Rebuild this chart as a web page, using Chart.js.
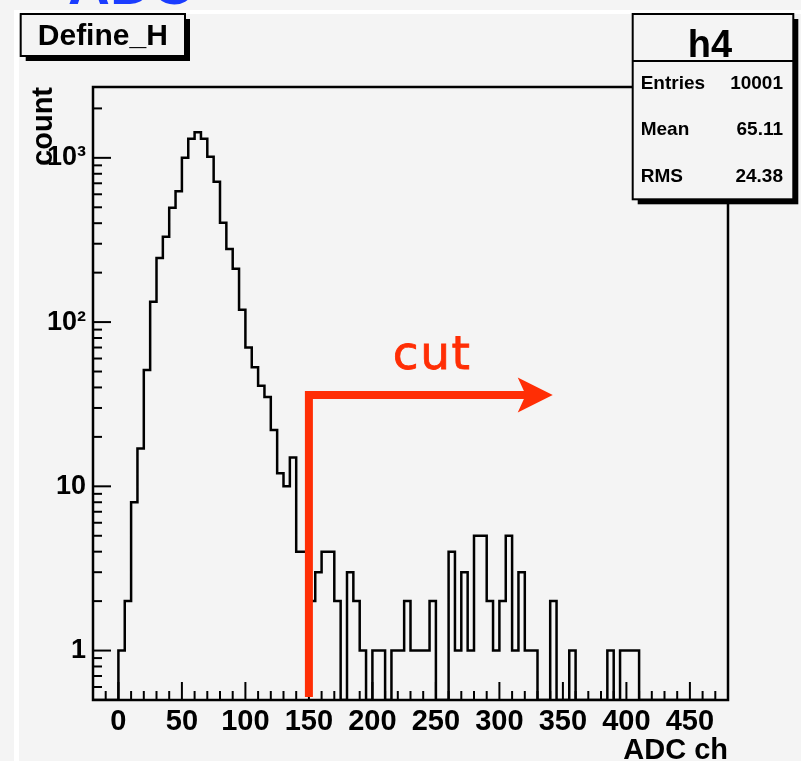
<!DOCTYPE html>
<html>
<head>
<meta charset="utf-8">
<script src="https://cdn.jsdelivr.net/npm/chart.js@4.4.1/dist/chart.umd.min.js"></script>
<style>
  html, body { margin: 0; padding: 0; background: #f4f4f4; }
  canvas { display: block; }
</style>
</head>
<body>
<canvas id="h4" width="801" height="761"></canvas>
<script>
// histogram h4: 100 bins of 5 ADC ch from -20 to 480
const X_MIN = -20;
const X_MAX = 480;
const BIN_WIDTH = 5;
const Y_MIN = 0.5;
const Y_MAX = 2700;

const binValues = [
    0, 0, 0, 0,
    1, 2, 8, 17, 51, 133, 246, 331, 497, 627,
    1001, 1307, 1434, 1307, 1016, 715, 402, 279, 211, 119,
    70, 53, 41, 35, 22, 12, 10, 15, 4, 4,
    2, 3, 4, 4, 2, 0, 3, 2, 1, 0,
    1, 1, 0, 1, 1, 2, 1, 1, 1, 2,
    0, 0, 4, 1, 3, 1, 5, 5, 2, 1,
    2, 5, 1, 3, 1, 1, 0, 0, 2, 0,
    0, 1, 0, 0, 0, 0, 0, 1, 0, 1,
    1, 1, 0, 0, 0, 0, 0, 0, 0, 0,
    0, 0, 0, 0
];

const xTickLabels = [0, 50, 100, 150, 200, 250, 300, 350, 400, 450];
const yTickValues = [1, 10, 100, 1000];
const yTickLabels = ['1', '10', '10\u00b2', '10\u00b3'];

const statNames = ['Entries', 'Mean', 'RMS'];
const statValues = ['10001', '65.11', '24.38'];

// cut annotation (in axis units)
const CUT_X = 150;
const CUT_TOP = 36;
const CUT_END = 342;
const CUT_TEXT_X = 247;
const CUT_TEXT_Y = 52;

const RED = '#ff2e05';
const PAD = '#f4f4f4';
const FONT = '"Liberation Sans", Arial, Helvetica, sans-serif';

// outline points: each bin gives its two top corners, empty bins sit on the frame
const histPoints = [];
binValues.forEach((v, i) => {
    const lo = X_MIN + i * BIN_WIDTH;
    const y = v > 0 ? v : Y_MIN;
    histPoints.push({ x: lo, y: y }, { x: lo + BIN_WIDTH, y: y });
});

function line(ctx, x1, y1, x2, y2) {
    ctx.beginPath();
    ctx.moveTo(x1, y1);
    ctx.lineTo(x2, y2);
    ctx.stroke();
}

function shadowBox(ctx, x, y, w, h) {
    ctx.fillStyle = '#000';
    ctx.fillRect(x + 5, y + 5, w, h);
    ctx.fillStyle = PAD;
    ctx.fillRect(x, y, w, h);
    ctx.lineWidth = 2;
    ctx.strokeStyle = '#000';
    ctx.strokeRect(x, y, w, h);
}

const rootPad = {
    id: 'rootPad',
    beforeDraw(chart) {
        const ctx = chart.ctx;
        ctx.save();
        ctx.fillStyle = PAD;
        ctx.fillRect(0, 0, chart.width, chart.height);
        ctx.fillStyle = '#ffffff';
        ctx.fillRect(14, 10, chart.width - 14, 4);
        ctx.fillRect(14, 10, 5, chart.height - 10);
        // canvas title, mostly outside the picture
        ctx.fillStyle = '#1a3cff';
        ctx.font = 'bold 58px ' + FONT;
        ctx.textBaseline = 'alphabetic';
        ctx.fillText('ADC', 68, 4);
        ctx.restore();
    },
    beforeDatasetsDraw(chart) {
        const ctx = chart.ctx;
        const { left, right, top, bottom } = chart.chartArea;
        const xs = chart.scales.x;
        const ys = chart.scales.y;
        ctx.save();
        ctx.strokeStyle = '#000';
        ctx.lineWidth = 2.5;
        ctx.strokeRect(left, top, right - left, bottom - top);
        ctx.lineWidth = 2;
        // x tick marks every 10, long ones every 50
        for (let v = X_MIN + 10; v < X_MAX; v += 10) {
            const px = xs.getPixelForValue(v);
            const len = v % 50 === 0 ? 18 : 9;
            line(ctx, px, bottom, px, bottom - len);
        }
        // y tick marks per decade
        for (let e = -1; e <= 3; e++) {
            for (let m = 1; m <= 9; m++) {
                const v = m * Math.pow(10, e);
                if (v <= Y_MIN || v >= Y_MAX) continue;
                const py = ys.getPixelForValue(v);
                const len = m === 1 ? 18 : 9;
                line(ctx, left, py, left + len, py);
            }
        }
        ctx.restore();
    },
    afterDraw(chart) {
        const ctx = chart.ctx;
        const xs = chart.scales.x;
        const ys = chart.scales.y;
        const bottom = chart.chartArea.bottom;
        ctx.save();

        // cut line with arrow
        const cx = xs.getPixelForValue(CUT_X);
        const cy = ys.getPixelForValue(CUT_TOP);
        const ex = xs.getPixelForValue(CUT_END);
        ctx.strokeStyle = RED;
        ctx.fillStyle = RED;
        ctx.lineWidth = 8;
        ctx.lineJoin = 'miter';
        ctx.beginPath();
        ctx.moveTo(cx, bottom - 3);
        ctx.lineTo(cx, cy);
        ctx.lineTo(ex - 24, cy);
        ctx.stroke();
        ctx.beginPath();
        ctx.moveTo(ex, cy);
        ctx.lineTo(ex - 35, cy - 17.5);
        ctx.lineTo(ex - 27, cy);
        ctx.lineTo(ex - 35, cy + 17.5);
        ctx.closePath();
        ctx.fill();

        ctx.font = '47px "DejaVu Sans", sans-serif';
        ctx.letterSpacing = '1.5px';
        ctx.textAlign = 'center';
        ctx.textBaseline = 'alphabetic';
        ctx.fillText('cut', xs.getPixelForValue(CUT_TEXT_X), ys.getPixelForValue(CUT_TEXT_Y));
        ctx.strokeStyle = RED;
        ctx.lineWidth = 0.8;
        ctx.strokeText('cut', xs.getPixelForValue(CUT_TEXT_X), ys.getPixelForValue(CUT_TEXT_Y));
        ctx.letterSpacing = '0px';

        // title box
        shadowBox(ctx, 20.7, 14, 164.3, 42);
        ctx.fillStyle = '#000';
        ctx.font = 'bold 30px ' + FONT;
        ctx.textAlign = 'center';
        ctx.fillText('Define_H', 102.8, 44.5);

        // stats box
        shadowBox(ctx, 632.7, 14, 160.6, 185.3);
        line(ctx, 632.7, 61, 793.3, 61);
        ctx.fillStyle = '#000';
        ctx.font = 'bold 38px ' + FONT;
        ctx.textAlign = 'center';
        ctx.fillText('h4', 710, 56.5);
        ctx.font = 'bold 19px ' + FONT;
        const rowY = [89.3, 135, 181.7];
        statNames.forEach((name, i) => {
            ctx.textAlign = 'left';
            ctx.fillText(name, 640.7, rowY[i]);
            ctx.textAlign = 'right';
            ctx.fillText(statValues[i], 783, rowY[i]);
        });
        ctx.restore();
    }
};

new Chart(document.getElementById('h4').getContext('2d'), {
    type: 'line',
    data: {
        datasets: [{
            label: 'h4',
            data: histPoints,
            borderColor: '#000000',
            borderWidth: 2.5,
            borderJoinStyle: 'miter',
            pointRadius: 0,
            tension: 0,
            fill: false
        }]
    },
    options: {
        responsive: false,
        animation: false,
        events: [],
        layout: { padding: { left: 0, top: 87, right: 73, bottom: 0 } },
        plugins: {
            legend: { display: false },
            tooltip: { enabled: false }
        },
        scales: {
            x: {
                type: 'linear',
                min: X_MIN,
                max: X_MAX,
                grid: { display: false, drawTicks: false },
                border: { display: false },
                afterBuildTicks: (scale) => {
                    scale.ticks = xTickLabels.map(v => ({ value: v }));
                },
                afterFit: (scale) => { scale.height = 61; },
                ticks: {
                    autoSkip: false,
                    maxRotation: 0,
                    minRotation: 0,
                    padding: 5,
                    color: '#000',
                    font: { family: FONT, size: 29, weight: 'bold' },
                    callback: (v) => String(v)
                },
                title: {
                    display: true,
                    text: 'ADC ch',
                    align: 'end',
                    color: '#000',
                    font: { family: FONT, size: 29, weight: 'bold', lineHeight: 0.72 },
                    padding: { top: 0, bottom: 0 }
                }
            },
            y: {
                type: 'logarithmic',
                min: Y_MIN,
                max: Y_MAX,
                grid: { display: false, drawTicks: false },
                border: { display: false },
                afterBuildTicks: (scale) => {
                    scale.ticks = yTickValues.map(v => ({ value: v }));
                },
                afterFit: (scale) => { scale.width = 93; },
                ticks: {
                    autoSkip: false,
                    padding: 7,
                    color: '#000',
                    font: { family: FONT, size: 27, weight: 'bold' },
                    callback: (v) => {
                        const i = yTickValues.indexOf(v);
                        return i >= 0 ? yTickLabels[i] : '';
                    }
                },
                title: {
                    display: true,
                    text: 'count',
                    align: 'end',
                    color: '#000',
                    font: { family: FONT, size: 29, weight: 'bold', lineHeight: 1 },
                    padding: { top: 29, bottom: 0 }
                }
            }
        }
    },
    plugins: [rootPad]
});
</script>
</body>
</html>
